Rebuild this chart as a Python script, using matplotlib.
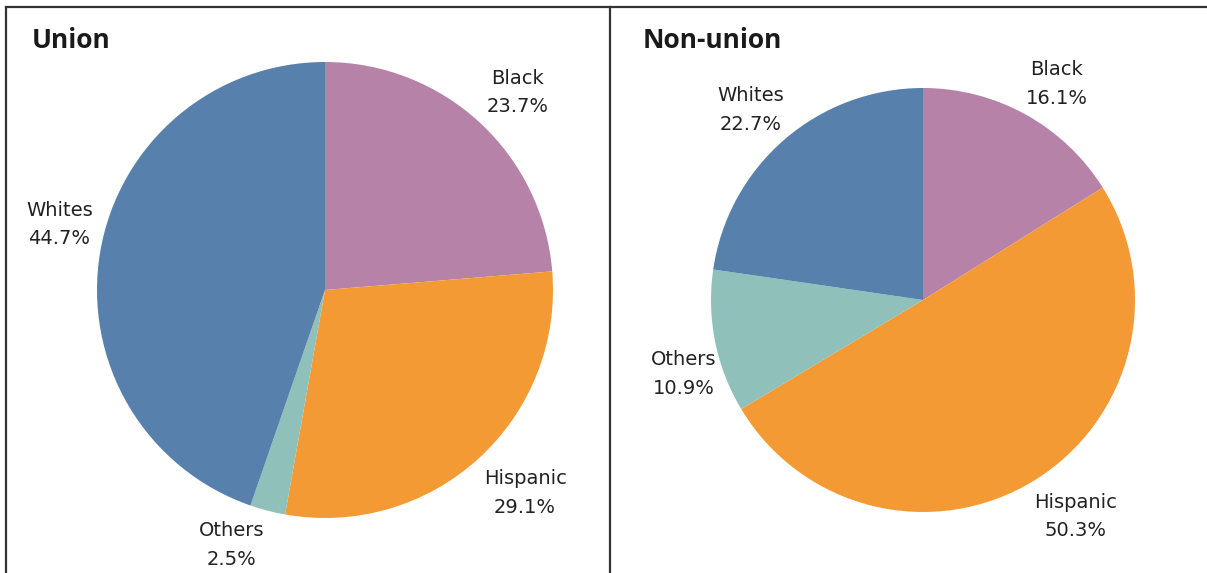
import matplotlib

matplotlib.use("Agg")
import matplotlib.pyplot as plt
import numpy as np
from matplotlib.lines import Line2D

categories = ["Black", "Hispanic", "Others", "Whites"]
union_shares = [23.7, 29.1, 2.5, 44.7]
nonunion_shares = [16.1, 50.3, 10.9, 22.7]

COLORS = {
    "Black": "#b782a8",
    "Hispanic": "#f39a35",
    "Others": "#8fc1ba",
    "Whites": "#5880ac",
}

W, H = 1207, 573


def pie_panel(fig, cx, cy, radius, shares, title, title_x, label_pos):
    # square axes centred on the pie, one data unit = radius pixels
    s = 1.5 * radius
    ax = fig.add_axes([(cx - s) / W, (H - cy - s) / H, 2 * s / W, 2 * s / H])

    wedges, _ = ax.pie(
        shares,
        colors=[COLORS[c] for c in categories],
        startangle=90,
        counterclock=False,
        radius=1.0,
        wedgeprops=dict(linewidth=0),
    )
    # pie() resets the limits, so fix them afterwards
    ax.set_xlim(-s / radius, s / radius)
    ax.set_ylim(-s / radius, s / radius)
    ax.set_aspect("equal")
    ax.axis("off")

    # labels sit outside each wedge: (distance, angle nudge in degrees)
    for w, cat, val, (d, nudge) in zip(wedges, categories, shares, label_pos):
        mid = np.deg2rad((w.theta1 + w.theta2) / 2 + nudge)
        ax.text(
            d * np.cos(mid),
            d * np.sin(mid),
            f"{cat}\n{val:.1f}%",
            ha="center",
            va="center",
            fontsize=14,
            linespacing=1.65,
            color="#222222",
        )

    fig.text(title_x / W, 1 - 40 / H, title, fontsize=19, fontweight="bold",
             family="Open Sans", va="center", ha="left", color="#1a1a1a")


fig = plt.figure(figsize=(W / 100, H / 100), dpi=100)

pie_panel(fig, 325, 290, 228, union_shares, "Union", 32,
          [(1.21, -1.6), (1.25, 2.3), (1.19, -5.6), (1.2, -4.3)])
pie_panel(fig, 923, 300, 212, nonunion_shares, "Non-union", 643,
          [(1.2, -2.8), (1.25, 3.7), (1.18, 5.8), (1.21, 1.3)])

# panel frame
for xs, ys in [
    ([6, W], [7, 7]),
    ([6, 6], [7, H]),
    ([610, 610], [7, H]),
]:
    fig.add_artist(Line2D([x / W for x in xs], [1 - y / H for y in ys],
                          color="#333333", linewidth=1.6))

fig.savefig("out.png", dpi=100)
